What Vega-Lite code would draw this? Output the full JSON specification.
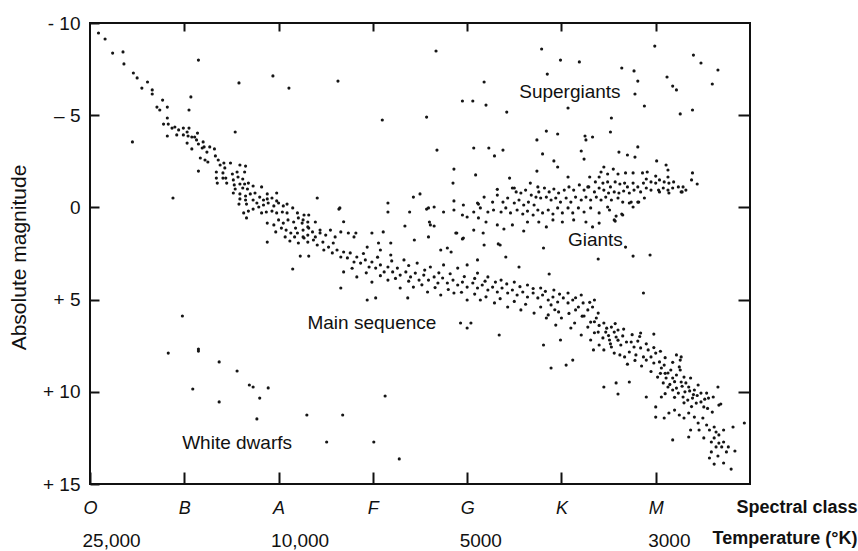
{
  "$schema": "https://vega.github.io/schema/vega-lite/v6.json",
  "width": 660,
  "height": 461,
  "autosize": {"type": "none"},
  "padding": {"left": 90, "top": 23, "right": 108, "bottom": 67},
  "background": "white",
  "config": {
    "view": {"stroke": "#111", "strokeWidth": 2},
    "font": "Liberation Sans",
    "axis": {"domain": false, "grid": false, "tickColor": "#111", "tickWidth": 2, "labelColor": "#111", "titleColor": "#111"}
  },
  "datasets": {
    "ms": [
      {"c":0.09,"m":-9.46},{"c":0.16,"m":-9.13},{"c":0.24,"m":-8.37},{"c":0.35,"m":-8.43},{"c":0.36,"m":-7.78},{"c":0.46,"m":-7.29},{"c":0.50,"m":-7.02},{"c":0.55,"m":-6.47},{"c":0.61,"m":-6.8},{"c":0.66,"m":-6.37},{"c":0.66,"m":-6.15},{"c":0.71,"m":-5.44},{"c":0.77,"m":-5.82},{"c":0.74,"m":-5.28},{"c":0.82,"m":-5.44},{"c":0.82,"m":-4.85},{"c":0.78,"m":-4.52},{"c":0.83,"m":-4.52},{"c":0.82,"m":-3.87},{"c":0.87,"m":-4.3},{"c":0.90,"m":-4.36},{"c":0.92,"m":-3.93},{"c":0.94,"m":-4.2},{"c":0.99,"m":-4.3},{"c":0.99,"m":-3.93},{"c":1.03,"m":-4.09},{"c":1.05,"m":-4.3},{"c":1.04,"m":-3.87},{"c":1.08,"m":-3.82},{"c":1.11,"m":-3.82},{"c":1.14,"m":-4.03},{"c":1.03,"m":-3.49},{"c":1.08,"m":-3.17},{"c":1.15,"m":-3.44},{"c":1.20,"m":-3.55},{"c":1.13,"m":-3.66},{"c":1.19,"m":-3.22},{"c":1.21,"m":-3.28},{"c":1.24,"m":-3.0},{"c":1.27,"m":-3.28},{"c":1.32,"m":-3.17},{"c":1.17,"m":-2.68},{"c":1.22,"m":-2.57},{"c":1.25,"m":-2.46},{"c":1.33,"m":-2.79},{"c":1.36,"m":-2.57},{"c":1.38,"m":-2.3},{"c":1.42,"m":-2.41},{"c":1.49,"m":-2.41},{"c":1.43,"m":-2.14},{"c":1.34,"m":-1.92},{"c":1.59,"m":-2.3},{"c":1.65,"m":-2.24},{"c":1.15,"m":-1.97},
      {"c":1.34,"m":-1.59},{"c":1.41,"m":-1.87},{"c":1.41,"m":-1.59},{"c":1.44,"m":-1.59},{"c":1.35,"m":-1.32},{"c":1.45,"m":-1.32},{"c":1.51,"m":-1.81},{"c":1.56,"m":-1.92},{"c":1.52,"m":-1.49},{"c":1.57,"m":-1.65},{"c":1.64,"m":-1.92},{"c":1.62,"m":-1.54},{"c":1.53,"m":-1.22},{"c":1.59,"m":-1.27},{"c":1.64,"m":-1.27},{"c":1.68,"m":-1.32},{"c":1.54,"m":-1.0},{"c":1.62,"m":-1.05},{"c":1.67,"m":-1.0},{"c":1.73,"m":-1.16},{"c":1.82,"m":-1.11},{"c":1.52,"m":-0.78},{"c":1.59,"m":-0.73},{"c":1.65,"m":-0.62},{"c":1.70,"m":-0.73},{"c":1.75,"m":-0.78},{"c":1.80,"m":-0.56},{"c":1.88,"m":-0.73},{"c":1.98,"m":-0.78},{"c":1.59,"m":-0.46},{"c":1.65,"m":-0.4},{"c":1.73,"m":-0.4},{"c":1.77,"m":-0.24},{"c":1.84,"m":-0.4},{"c":1.88,"m":-0.46},{"c":1.93,"m":-0.51},{"c":1.98,"m":-0.35},{"c":1.58,"m":-0.18},{"c":1.66,"m":-0.18},{"c":1.73,"m":0.09},{"c":1.79,"m":-0.02},{"c":1.84,"m":-0.13},{"c":1.89,"m":-0.24},{"c":1.95,"m":-0.08},{"c":2.0,"m":-0.24},{"c":2.05,"m":-0.08},{"c":2.09,"m":-0.18},{"c":2.15,"m":0.03},{"c":1.63,"m":0.3},{"c":1.68,"m":0.2},{"c":1.66,"m":0.57},{"c":1.82,"m":0.3},{"c":1.87,"m":0.25},{"c":1.93,"m":0.2},{"c":1.98,"m":0.3},{"c":2.04,"m":0.25},{"c":2.09,"m":0.3},{"c":2.2,"m":0.3},{"c":2.27,"m":0.41},{"c":2.32,"m":0.41},{"c":1.88,"m":0.85},{"c":1.95,"m":0.95},{"c":2.0,"m":0.68},{"c":2.05,"m":0.85},{"c":2.1,"m":0.68},{"c":2.16,"m":0.79},{"c":2.21,"m":0.57},{"c":2.25,"m":0.85},{"c":2.31,"m":0.79},{"c":1.97,"m":1.33},{"c":2.03,"m":1.12},{"c":2.08,"m":1.23},{"c":2.13,"m":1.39},{"c":2.18,"m":1.12},{"c":2.2,"m":1.39},{"c":2.26,"m":1.23},{"c":2.32,"m":1.12},{"c":2.07,"m":1.6},{"c":2.12,"m":1.82},{"c":2.17,"m":1.6},{"c":2.21,"m":1.93},{"c":2.27,"m":1.66},{"c":2.31,"m":1.88},{"c":2.23,"m":2.64},{"c":2.32,"m":2.64},{"c":2.15,"m":3.34},
      {"c":2.26,"m":0.68},{"c":2.31,"m":1.06},{"c":2.36,"m":1.33},{"c":2.26,"m":1.6},{"c":2.39,"m":1.6},{"c":2.44,"m":1.39},{"c":2.41,"m":2.04},{"c":2.47,"m":1.88},{"c":2.48,"m":2.31},{"c":2.53,"m":2.15},{"c":2.58,"m":1.93},{"c":2.57,"m":2.47},{"c":2.62,"m":2.31},{"c":2.66,"m":2.69},{"c":2.69,"m":2.42},{"c":2.73,"m":2.74},{"c":2.76,"m":2.47},{"c":2.80,"m":2.96},{"c":2.83,"m":2.69},{"c":2.87,"m":3.02},{"c":2.92,"m":2.85},{"c":2.96,"m":3.23},{"c":2.99,"m":2.96},{"c":3.03,"m":3.29},{"c":3.08,"m":3.12},{"c":3.12,"m":3.5},{"c":3.16,"m":3.23},{"c":3.21,"m":3.5},{"c":3.26,"m":3.29},{"c":3.29,"m":3.67},{"c":3.35,"m":3.5},{"c":3.40,"m":3.77},{"c":3.45,"m":3.56},{"c":3.49,"m":3.94},{"c":3.54,"m":3.67},{"c":3.59,"m":3.94},{"c":3.65,"m":3.77},{"c":3.69,"m":4.1},{"c":3.74,"m":3.83},{"c":3.79,"m":4.1},{"c":3.85,"m":3.94},{"c":3.90,"m":4.21},{"c":3.95,"m":4.05},{"c":4.0,"m":4.32},{"c":4.06,"m":4.1},{"c":4.11,"m":4.37},{"c":4.16,"m":4.21},{"c":4.22,"m":4.48},{"c":4.27,"m":4.32},{"c":4.32,"m":4.59},{"c":4.37,"m":4.37},{"c":4.43,"m":4.64},{"c":4.48,"m":4.48},{"c":4.53,"m":4.75},{"c":4.59,"m":4.59},{"c":4.64,"m":4.86},{"c":4.70,"m":4.64},{"c":4.75,"m":4.91},{"c":4.80,"m":4.75},{"c":4.86,"m":5.02},{"c":4.91,"m":4.86},{"c":4.96,"m":5.13},{"c":5.02,"m":4.91},{"c":5.07,"m":5.18},{"c":5.12,"m":5.02},{"c":5.18,"m":5.40},{"c":5.23,"m":5.18},{"c":5.28,"m":5.56},{"c":5.33,"m":5.40},{"c":5.39,"m":5.73},
      {"c":2.66,"m":1.33},{"c":2.80,"m":1.6},{"c":2.94,"m":2.15},{"c":3.08,"m":2.31},{"c":3.19,"m":2.58},{"c":3.33,"m":2.85},{"c":3.47,"m":3.02},{"c":3.61,"m":3.23},{"c":3.75,"m":3.12},{"c":3.90,"m":3.29},{"c":4.0,"m":3.12},{"c":4.11,"m":3.56},{"c":4.22,"m":3.77},{"c":4.36,"m":3.94},{"c":4.50,"m":4.05},{"c":4.64,"m":4.21},{"c":4.78,"m":4.37},{"c":4.92,"m":4.48},{"c":5.07,"m":4.64},{"c":5.21,"m":4.75},{"c":5.35,"m":5.02},
      {"c":2.69,"m":3.5},{"c":2.83,"m":3.77},{"c":2.99,"m":4.05},{"c":3.16,"m":3.94},{"c":3.29,"m":4.37},{"c":3.43,"m":4.32},{"c":3.58,"m":4.59},{"c":3.72,"m":4.75},{"c":3.86,"m":4.64},{"c":4.0,"m":5.02},{"c":4.14,"m":5.02},{"c":4.29,"m":5.18},{"c":4.43,"m":5.4},{"c":4.57,"m":5.56},{"c":4.71,"m":5.73},{"c":4.86,"m":5.83},{"c":5.0,"m":6.0},{"c":5.14,"m":6.27},{"c":5.28,"m":6.49},{"c":5.39,"m":6.76},
      {"c":2.39,"m":0.79},{"c":2.44,"m":1.23},{"c":2.50,"m":1.5},{"c":2.55,"m":1.23},{"c":2.60,"m":1.6},{"c":2.31,"m":1.5},{"c":2.37,"m":1.77},{"c":2.74,"m":1.39},{"c":2.69,"m":0.78},{"c":2.82,"m":1.39},{"c":2.99,"m":1.39},{"c":3.11,"m":1.33},{"c":3.19,"m":1.93},{"c":3.06,"m":1.93},{"c":3.44,"m":1.77},{"c":3.59,"m":1.6},{"c":3.79,"m":2.2},{"c":3.72,"m":2.31},{"c":3.83,"m":2.42},
      {"c":2.9,"m":2.5},{"c":3.05,"m":2.7},{"c":3.2,"m":2.9},{"c":3.38,"m":3.15},{"c":3.55,"m":3.4},{"c":3.7,"m":3.55},{"c":3.82,"m":3.6},{"c":3.97,"m":3.75},{"c":4.08,"m":3.85},{"c":4.19,"m":4.0},{"c":4.3,"m":4.05},{"c":4.42,"m":4.15},{"c":4.56,"m":4.3},{"c":4.7,"m":4.4},{"c":4.83,"m":4.55},{"c":4.98,"m":4.7},{"c":5.15,"m":4.9},{"c":5.3,"m":5.15},
      {"c":2.78,"m":3.3},{"c":2.93,"m":3.55},{"c":3.08,"m":3.7},{"c":3.24,"m":3.85},{"c":3.38,"m":4.0},{"c":3.52,"m":4.2},{"c":3.66,"m":4.35},{"c":3.8,"m":4.45},{"c":3.94,"m":4.6},{"c":4.08,"m":4.7},{"c":4.2,"m":4.85},{"c":4.35,"m":4.95},{"c":4.5,"m":5.1},{"c":4.62,"m":5.25},{"c":4.78,"m":5.4},{"c":4.93,"m":5.55},{"c":5.08,"m":5.75},{"c":5.22,"m":5.9},{"c":5.35,"m":6.2},
      {"c":4.89,"m":5.29},{"c":4.97,"m":5.67},{"c":5.15,"m":5.56},{"c":5.24,"m":5.89},{"c":5.31,"m":6.22},{"c":5.37,"m":6.0},{"c":5.10,"m":6.54},{"c":5.21,"m":6.92},{"c":5.31,"m":7.19},{"c":4.94,"m":6.38},{"c":4.84,"m":6.0},{"c":4.99,"m":7.19},{"c":5.40,"m":7.46},{"c":5.34,"m":7.73},
      {"c":2.66,"m":4.37},{"c":2.94,"m":5.02},{"c":3.03,"m":4.91},{"c":3.37,"m":4.91},{"c":3.93,"m":6.27},{"c":4.0,"m":6.54},{"c":4.04,"m":6.27},{"c":4.34,"m":6.92},{"c":4.81,"m":7.46},{"c":4.89,"m":8.71},{"c":5.05,"m":8.55},{"c":5.12,"m":8.28},
      {"c":5.45,"m":6.27},{"c":5.53,"m":6.49},{"c":5.47,"m":6.76},{"c":5.56,"m":6.76},{"c":5.60,"m":6.65},{"c":5.44,"m":7.08},{"c":5.51,"m":7.19},{"c":5.58,"m":7.03},{"c":5.65,"m":6.97},{"c":5.69,"m":7.3},{"c":5.63,"m":7.46},{"c":5.53,"m":7.57},{"c":5.45,"m":7.73},{"c":5.56,"m":7.9},{"c":5.74,"m":7.3},{"c":5.77,"m":7.57},{"c":5.81,"m":7.25},{"c":5.84,"m":7.62},{"c":5.72,"m":7.84},{"c":5.67,"m":8.11},{"c":5.79,"m":8.0},{"c":5.87,"m":8.11},{"c":5.92,"m":7.73},{"c":5.90,"m":8.28},{"c":5.95,"m":8.11},{"c":5.98,"m":8.44},{"c":6.0,"m":7.9},{"c":6.04,"m":8.38},{"c":6.06,"m":8.71},{"c":6.09,"m":8.55},{"c":6.13,"m":8.98},{"c":6.11,"m":9.25},{"c":6.16,"m":8.82},{"c":6.18,"m":9.25},{"c":6.22,"m":9.09},{"c":6.25,"m":8.65},{"c":6.27,"m":8.11},{"c":6.26,"m":8.82},{"c":6.27,"m":9.47},{"c":6.30,"m":9.2},{"c":6.32,"m":9.52},{"c":6.35,"m":9.74},{"c":6.37,"m":9.25},{"c":6.41,"m":9.9},{"c":6.45,"m":9.63},{"c":6.48,"m":10.07},{"c":6.08,"m":9.52},{"c":6.13,"m":9.74},{"c":6.18,"m":9.9},{"c":6.24,"m":10.07},{"c":6.29,"m":10.28},{"c":6.34,"m":10.45},{"c":6.39,"m":10.34},{"c":6.43,"m":10.61},{"c":6.48,"m":10.55},{"c":6.51,"m":10.82},{"c":6.56,"m":10.34},{"c":6.54,"m":10.07},{"c":6.61,"m":10.28},{"c":6.66,"m":9.74},{"c":6.69,"m":10.66},{"c":6.06,"m":10.28},{"c":6.0,"m":10.82},{"c":5.90,"m":10.28},{"c":6.0,"m":11.37},{"c":6.09,"m":11.42},{"c":6.14,"m":11.15},{"c":6.2,"m":10.99},{"c":6.25,"m":11.26},{"c":6.30,"m":11.42},{"c":6.35,"m":11.15},{"c":6.41,"m":11.37},{"c":6.45,"m":11.69},{"c":6.50,"m":11.42},{"c":6.54,"m":11.8},{"c":6.57,"m":12.07},{"c":6.62,"m":11.91},{"c":6.64,"m":12.18},{"c":6.67,"m":12.34},{"c":6.72,"m":12.07},{"c":6.82,"m":11.91},{"c":6.94,"m":11.69},{"c":6.37,"m":12.07},{"c":6.46,"m":12.07},{"c":6.51,"m":12.5},{"c":6.18,"m":12.61},{"c":6.35,"m":12.45},{"c":6.59,"m":12.72},{"c":6.62,"m":12.5},{"c":6.67,"m":12.78},{"c":6.72,"m":12.72},{"c":6.77,"m":12.99},{"c":6.70,"m":12.99},{"c":6.64,"m":12.99},{"c":6.59,"m":13.26},{"c":6.66,"m":13.48},{"c":6.75,"m":13.26},{"c":6.84,"m":13.21},{"c":6.57,"m":13.59},{"c":6.62,"m":13.92},{"c":6.72,"m":13.86},{"c":6.80,"m":14.19},{"c":6.26,"m":8.28},{"c":6.67,"m":10.72},{"c":5.98,"m":6.87},{"c":5.84,"m":6.81},{"c":5.60,"m":10.12},{"c":5.45,"m":9.74},{"c":5.58,"m":9.52},{"c":5.72,"m":9.47},
      {"c":6.1,"m":9.0},{"c":6.2,"m":9.45},{"c":6.28,"m":9.7},{"c":6.36,"m":9.95},{"c":6.44,"m":10.2},{"c":6.52,"m":10.4},{"c":6.15,"m":9.6},{"c":6.22,"m":9.8},{"c":6.31,"m":10.0},{"c":6.4,"m":10.15},{"c":6.2,"m":10.3},{"c":6.3,"m":10.6},{"c":6.38,"m":10.8},{"c":6.55,"m":10.9},{"c":6.6,"m":11.1},{"c":6.1,"m":10.1},{"c":6.02,"m":9.2},{"c":5.95,"m":8.9},{"c":6.05,"m":9.0},{"c":5.85,"m":8.6},{"c":5.78,"m":8.3},{"c":5.7,"m":8.5},{"c":5.62,"m":8.0},{"c":5.52,"m":7.4},{"c":5.6,"m":7.2},{"c":5.5,"m":6.95},{"c":5.4,"m":6.4},{"c":5.35,"m":6.8},{"c":5.48,"m":6.55},{"c":5.57,"m":6.3},{"c":5.66,"m":6.6},{"c":5.75,"m":6.9},{"c":5.83,"m":7.0},{"c":5.9,"m":7.4},{"c":5.98,"m":7.6},{"c":6.05,"m":7.8},{"c":6.1,"m":8.15},{"c":6.18,"m":8.4},{"c":6.22,"m":8.0}
    ],
    "other": [
      {"c":1.15,"m":-7.99},{"c":1.58,"m":-6.75},{"c":1.07,"m":-5.99},{"c":1.05,"m":-5.28},{"c":1.94,"m":-7.13},{"c":2.11,"m":-6.47},{"c":0.45,"m":-3.55},{"c":1.54,"m":-4.09},{"c":2.63,"m":-6.85},{"c":3.67,"m":-8.48},{"c":3.10,"m":-4.74},{"c":3.57,"m":-4.9},{"c":3.68,"m":-3.11},{"c":4.18,"m":-6.8},{"c":3.95,"m":-5.77},{"c":4.06,"m":-5.77},{"c":4.20,"m":-5.55},{"c":4.42,"m":-5.17},{"c":4.79,"m":-8.59},{"c":4.99,"m":-7.99},{"c":5.19,"m":-7.89},{"c":4.85,"m":-7.23},{"c":5.07,"m":-5.39},{"c":4.84,"m":-4.14},{"c":4.96,"m":-3.98},{"c":4.74,"m":-3.66},{"c":5.25,"m":-3.87},{"c":5.26,"m":-3.66},{"c":5.33,"m":-3.82},{"c":4.07,"m":-3.22},{"c":4.23,"m":-3.22},{"c":4.29,"m":-2.79},{"c":4.38,"m":-3.11},{"c":4.80,"m":-2.9},{"c":4.92,"m":-2.52},{"c":4.96,"m":-2.19},{"c":4.74,"m":-1.97},{"c":5.21,"m":-3.06},{"c":5.24,"m":-2.62},{"c":3.86,"m":-2.08},{"c":3.85,"m":-1.32},{"c":4.09,"m":-1.76},{"c":5.61,"m":-3.0},{"c":5.70,"m":-2.84},{"c":5.78,"m":-2.73},{"c":5.81,"m":-3.28},{"c":6.01,"m":-2.52},{"c":5.99,"m":-8.75},{"c":6.40,"m":-8.26},{"c":6.48,"m":-7.83},{"c":6.66,"m":-7.45},{"c":5.64,"m":-7.56},{"c":5.77,"m":-7.4},{"c":5.81,"m":-6.85},{"c":5.78,"m":-6.15},{"c":6.12,"m":-7.07},{"c":6.18,"m":-6.58},{"c":6.22,"m":-6.37},{"c":6.60,"m":-6.69},{"c":5.88,"m":-5.5},{"c":6.26,"m":-5.07},{"c":6.39,"m":-5.28},{"c":5.53,"m":-4.85},{"c":5.52,"m":-4.09},
      {"c":2.41,"m":-0.51},{"c":2.65,"m":0.03},{"c":3.16,"m":-0.24},{"c":3.16,"m":0.25},{"c":3.39,"m":0.25},{"c":3.43,"m":-0.56},{"c":3.50,"m":-0.73},{"c":3.57,"m":0.09},{"c":3.65,"m":-0.02},{"c":3.75,"m":0.25},{"c":3.86,"m":-0.35},{"c":3.86,"m":0.14},{"c":3.96,"m":-0.13},{"c":3.95,"m":0.41},{"c":4.0,"m":0.52},{"c":3.6,"m":0.79},{"c":3.65,"m":1.01},{"c":3.34,"m":1.01},{"c":3.89,"m":1.39},{"c":3.95,"m":1.71},{"c":4.07,"m":1.23},{"c":4.18,"m":-0.56},{"c":4.12,"m":-0.18},{"c":4.32,"m":-0.98},{"c":4.45,"m":-1.59},{"c":4.5,"m":-1.05},{"c":4.67,"m":-1.32},{"c":4.75,"m":-1.11},{"c":5.07,"m":-1.65},{"c":5.30,"m":-1.65},{"c":5.40,"m":-1.65},{"c":5.28,"m":-1.11},
      {"c":5.45,"m":-2.19},{"c":5.55,"m":-2.08},{"c":5.42,"m":-1.92},{"c":5.49,"m":-1.81},{"c":5.60,"m":-1.81},{"c":5.68,"m":-1.87},{"c":5.76,"m":-1.87},{"c":5.86,"m":-1.87},{"c":5.91,"m":-1.92},{"c":6.0,"m":-1.7},{"c":6.11,"m":-2.3},{"c":6.13,"m":-2.03},{"c":6.13,"m":-1.65},{"c":6.39,"m":-1.87},{"c":6.38,"m":-1.49},{"c":6.44,"m":-1.27},{"c":5.36,"m":-1.38},{"c":5.44,"m":-1.32},{"c":5.49,"m":-1.38},{"c":5.52,"m":-1.11},{"c":5.57,"m":-1.38},{"c":5.62,"m":-1.27},{"c":5.67,"m":-1.32},{"c":5.70,"m":-1.11},{"c":5.76,"m":-1.32},{"c":5.81,"m":-1.11},{"c":5.87,"m":-1.32},{"c":5.90,"m":-1.54},{"c":5.95,"m":-1.38},{"c":6.0,"m":-1.32},{"c":6.04,"m":-1.49},{"c":6.09,"m":-1.38},{"c":6.14,"m":-1.32},{"c":6.19,"m":-1.38},{"c":6.24,"m":-1.11},{"c":6.29,"m":-1.11},{"c":6.32,"m":-0.94},{"c":6.28,"m":-0.84},{"c":6.18,"m":-1.05},{"c":6.13,"m":-0.94},{"c":6.08,"m":-1.05},{"c":6.03,"m":-0.94},{"c":5.95,"m":-0.94},{"c":5.90,"m":-1.05},{"c":5.84,"m":-0.84},{"c":5.77,"m":-0.94},{"c":5.72,"m":-0.78},{"c":5.66,"m":-0.89},{"c":5.61,"m":-0.78},{"c":5.56,"m":-0.84},{"c":5.50,"m":-0.78},{"c":5.45,"m":-0.94},{"c":5.40,"m":-1.05},{"c":5.35,"m":-0.84},{"c":5.29,"m":-1.11},{"c":5.24,"m":-0.94},{"c":5.19,"m":-1.22},{"c":5.13,"m":-0.94},{"c":5.08,"m":-1.11},{"c":5.03,"m":-0.94},{"c":4.97,"m":-0.78},{"c":4.92,"m":-1.0},{"c":4.87,"m":-0.84},{"c":4.82,"m":-1.05},{"c":4.76,"m":-0.84},{"c":4.48,"m":-1.05},{"c":4.52,"m":-0.84},{"c":4.57,"m":-0.78},{"c":4.62,"m":-0.94},{"c":4.68,"m":-0.67},{"c":4.73,"m":-0.56},{"c":4.78,"m":-0.51},{"c":4.84,"m":-0.56},{"c":4.89,"m":-0.4},{"c":4.94,"m":-0.51},{"c":4.99,"m":-0.29},{"c":5.05,"m":-0.51},{"c":5.1,"m":-0.29},{"c":5.15,"m":-0.56},{"c":5.21,"m":-0.4},{"c":5.26,"m":-0.56},{"c":5.31,"m":-0.4},{"c":5.37,"m":-0.56},{"c":5.42,"m":-0.4},{"c":5.47,"m":-0.56},{"c":5.53,"m":-0.4},{"c":5.60,"m":-0.51},{"c":5.65,"m":-0.29},{"c":5.74,"m":-0.29},{"c":5.81,"m":-0.29},{"c":5.88,"m":-0.51},{"c":4.32,"m":-0.67},{"c":4.27,"m":-0.29},{"c":4.38,"m":-0.29},{"c":4.43,"m":-0.51},{"c":4.50,"m":-0.24},{"c":4.55,"m":-0.4},{"c":4.60,"m":-0.13},{"c":4.65,"m":-0.29},{"c":4.71,"m":-0.13},{"c":4.11,"m":-0.24},{"c":4.07,"m":0.25},{"c":4.14,"m":0.03},{"c":4.22,"m":0.25},{"c":4.28,"m":0.14},{"c":4.36,"m":0.25},{"c":4.41,"m":0.03},{"c":4.46,"m":0.3},{"c":4.53,"m":0.14},{"c":4.59,"m":0.36},{"c":4.64,"m":0.2},{"c":4.70,"m":0.41},{"c":4.75,"m":0.14},{"c":4.80,"m":0.3},{"c":4.86,"m":0.14},{"c":4.91,"m":0.36},{"c":4.96,"m":0.03},{"c":5.01,"m":0.3},{"c":5.07,"m":0.03},{"c":5.12,"m":0.3},{"c":5.18,"m":0.03},{"c":5.24,"m":0.25},{"c":5.31,"m":0.03},{"c":5.40,"m":0.3},{"c":5.51,"m":0.14},{"c":5.56,"m":0.68},{"c":5.65,"m":0.41},{"c":4.12,"m":0.57},{"c":4.20,"m":0.79},{"c":4.32,"m":0.95},{"c":4.39,"m":1.17},{"c":4.48,"m":0.95},{"c":4.60,"m":1.28},{"c":4.64,"m":0.79},{"c":4.76,"m":0.79},{"c":4.84,"m":1.06},{"c":4.91,"m":0.68},{"c":5.01,"m":0.79},{"c":5.13,"m":0.68},{"c":5.26,"m":0.79},{"c":5.33,"m":1.06},{"c":5.40,"m":0.85},{"c":4.17,"m":1.39},{"c":4.33,"m":1.98},{"c":4.81,"m":2.2},{"c":5.39,"m":2.8},{"c":5.76,"m":2.64},{"c":5.94,"m":2.58},{"c":5.68,"m":2.15},{"c":4.87,"m":3.61},{"c":5.57,"m":0.74},{"c":5.58,"m":0.47},{"c":5.64,"m":0.36},{"c":5.76,"m":-0.02},{"c":5.82,"m":-0.29},{"c":6.04,"m":-0.84},{"c":6.14,"m":-0.78},{"c":6.27,"m":-0.84},{"c":5.72,"m":-0.24},{"c":5.49,"m":-0.02},{"c":5.87,"m":4.64},
      {"c":4.18,"m":2.04},{"c":4.35,"m":2.04},{"c":2.64,"m":0.09},{"c":3.61,"m":0.95},{"c":3.59,"m":0.03},{"c":3.88,"m":1.39},{"c":3.96,"m":1.66},{"c":4.41,"m":2.69},{"c":4.55,"m":3.23},{"c":4.11,"m":2.85},{"c":1.88,"m":1.88},{"c":0.88,"m":-0.51},{"c":0.98,"m":5.89},{"c":1.15,"m":7.68},
      {"c":0.83,"m":7.9},{"c":1.15,"m":7.79},{"c":1.37,"m":8.38},{"c":1.56,"m":8.87},{"c":1.69,"m":9.63},{"c":1.73,"m":9.74},{"c":1.89,"m":9.79},{"c":1.09,"m":9.85},{"c":1.37,"m":10.55},{"c":1.80,"m":10.34},{"c":1.77,"m":11.47},{"c":2.30,"m":11.26},{"c":2.68,"m":11.26},{"c":2.51,"m":12.72},{"c":3.01,"m":12.72},{"c":3.13,"m":10.23},{"c":3.28,"m":13.64}
    ],
    "notes": [
      {"c":5.09,"m":-6.26,"t":"Supergiants"},
      {"c":5.36,"m":1.77,"t":"Giants"},
      {"c":2.99,"m":6.27,"t":"Main sequence"},
      {"c":1.56,"m":12.78,"t":"White dwarfs"}
    ]
  },
  "resolve": {"axis": {"x": "independent", "y": "independent"}},
  "layer": [
    {
      "data": {"name": "ms"},
      "mark": {"type": "circle", "size": 10, "color": "#151515", "opacity": 1},
      "encoding": {
        "x": {"field": "c", "type": "quantitative", "scale": {"domain": [0, 7], "nice": false, "zero": false},
          "axis": {"orient": "bottom", "values": [0, 1, 2, 3, 4, 5, 6], "labelExpr": "['O','B','A','F','G','K','M'][datum.value]", "tickSize": -12, "labelPadding": 27, "labelFontSize": 18, "labelFontStyle": "italic", "labelFlush": false,
            "title": "Spectral class", "titleFontSize": 18, "titleFontWeight": "bold", "titleAlign": "right", "titleAnchor": null, "titleX": 767, "titleY": 23, "titleBaseline": "middle"}},
        "y": {"field": "m", "type": "quantitative", "scale": {"domain": [-10, 15], "reverse": true, "nice": false, "zero": false},
          "axis": {"orient": "left", "values": [-10, -5, 0, 5, 10, 15], "labelExpr": "datum.value == -10 ? '- 10' : datum.value == -5 ? '\u2013 5' : datum.value == 0 ? '0' : '+ ' + datum.value", "tickSize": -9, "labelPadding": 19, "labelFontSize": 19, "labelFlush": false,
            "title": "Absolute magnitude", "titleFontSize": 21, "titleFontWeight": "normal", "titleX": -71, "titleY": 234, "titleAngle": -90, "titleAlign": "center", "titleBaseline": "middle", "titleAnchor": null}}
      }
    },
    {
      "data": {"name": "other"},
      "mark": {"type": "circle", "size": 10, "color": "#151515", "opacity": 1},
      "encoding": {
        "x": {"field": "c", "type": "quantitative",
          "axis": {"orient": "bottom", "values": [0, 2, 4, 6], "labelExpr": "datum.value == 0 ? '25,000' : datum.value == 2 ? '10,000' : datum.value == 4 ? '5000' : '3000'", "ticks": false, "labelPadding": 47, "labelFontSize": 19, "labelAlign": "left", "labelOffset": -8, "labelFlush": false,
            "title": "Temperature (\u00b0K)", "titleFontSize": 18, "titleFontWeight": "bold", "titleAlign": "right", "titleAnchor": null, "titleX": 767, "titleY": 54, "titleBaseline": "middle"}},
        "y": {"field": "m", "type": "quantitative", "axis": null}
      }
    },
    {
      "data": {"name": "notes"},
      "mark": {"type": "text", "fontSize": 19, "color": "#111", "align": "center", "baseline": "middle"},
      "encoding": {
        "x": {"field": "c", "type": "quantitative",
          "axis": {"orient": "top", "values": [1, 2, 3, 4, 5, 6], "labels": false, "tickSize": -8, "title": null}},
        "y": {"field": "m", "type": "quantitative",
          "axis": {"orient": "right", "values": [-5, 0, 5, 10], "labels": false, "tickSize": -12, "title": null}},
        "text": {"field": "t"}
      }
    }
  ]
}
